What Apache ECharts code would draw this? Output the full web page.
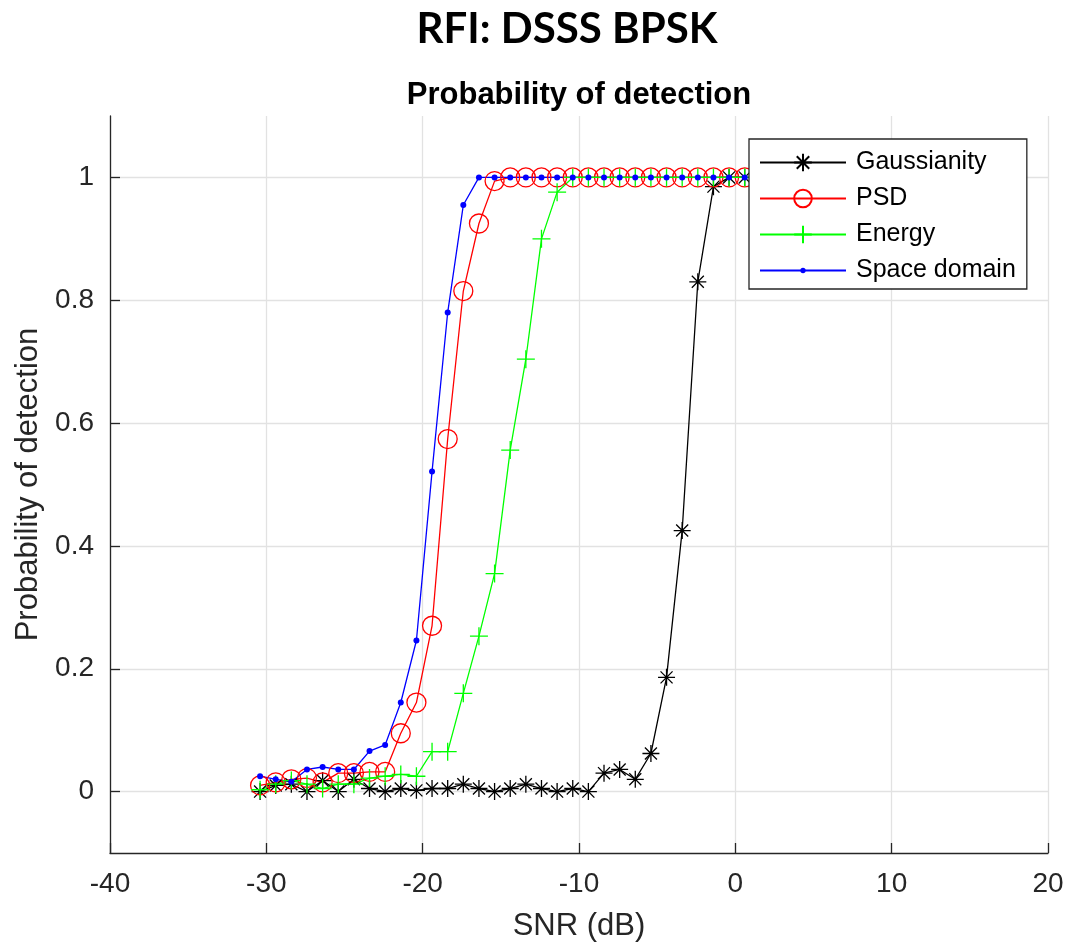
<!DOCTYPE html>
<html>
<head>
<meta charset="utf-8">
<script src="https://cdn.jsdelivr.net/npm/echarts@6/dist/echarts.min.js"></script>
<style>
html,body{margin:0;padding:0;background:#fff;}
#chart{width:1068px;height:947px;}
</style>
</head>
<body>
<div id="chart"></div>
<script>
const snr = [-30.4, -29.4, -28.4, -27.4, -26.4, -25.4, -24.4, -23.4, -22.4, -21.4,
  -20.4, -19.4, -18.4, -17.4, -16.4, -15.4, -14.4, -13.4, -12.4, -11.4,
  -10.4, -9.4, -8.4, -7.4, -6.4, -5.4, -4.4, -3.4, -2.4, -1.4, -0.4, 0.6];
const gaussianity = [0, 0.01, 0.012, 0, 0.018, 0, 0.02, 0.005, 0, 0.005,
  0.002, 0.005, 0.005, 0.012, 0.005, 0, 0.005, 0.012, 0.005, 0,
  0.005, 0, 0.03, 0.036, 0.02, 0.062, 0.186, 0.425, 0.83, 0.985, 1, 1];
const psd = [0.01, 0.015, 0.02, 0.022, 0.015, 0.03, 0.03, 0.032, 0.032, 0.095,
  0.145, 0.27, 0.574, 0.815, 0.925, 0.994, 1, 1, 1, 1,
  1, 1, 1, 1, 1, 1, 1, 1, 1, 1, 1, 1];
const energy = [0.003, 0.012, 0.018, 0.012, 0.005, 0.012, 0.012, 0.022, 0.025, 0.028,
  0.025, 0.065, 0.065, 0.16, 0.253, 0.355, 0.556, 0.704, 0.9, 0.976,
  1, 1, 1, 1, 1, 1, 1, 1, 1, 1, 1, 1];
const spaceDomain = [0.025, 0.02, 0.016, 0.036, 0.04, 0.036, 0.036, 0.066, 0.076, 0.145,
  0.246, 0.521, 0.78, 0.955, 1, 1, 1, 1, 1, 1,
  1, 1, 1, 1, 1, 1, 1, 1, 1, 1, 1, 1];
const seriesNames = ['Gaussianity', 'PSD', 'Energy', 'Space domain'];
const yTicks = [0, 0.2, 0.4, 0.6, 0.8, 1];
const xMin = -40, xMax = 20, xStep = 10;
const yMin = -0.1, yMax = 1.1;

const zip = (xs, ys) => xs.map((x, i) => [x, ys[i]]);
const AX = '#262626';
const FONT = '"Liberation Sans", Arial, sans-serif';
const starPath = 'path://M0,-10L0,10M-10,0L10,0M-7.07,-7.07L7.07,7.07M-7.07,7.07L7.07,-7.07';
const plusPath = 'path://M0,-10L0,10M-10,0L10,0';
const dotPath = 'path://M-10,-10M10,10M3,0A3,3,0,1,1,-3,0A3,3,0,1,1,3,0Z';

const chart = echarts.init(document.getElementById('chart'), null, {renderer: 'canvas'});
chart.setOption({
  animation: false,
  backgroundColor: '#fff',
  graphic: [
    {type: 'text', x: 567, y: 29, style: {text: 'RFI: DSSS BPSK', font: 'bold 42px Lato, "Open Sans", sans-serif', fill: '#000', textAlign: 'center', textVerticalAlign: 'middle'}},
    {type: 'text', x: 579, y: 95, style: {text: 'Probability of detection', font: 'bold 31px ' + FONT, fill: '#000', textAlign: 'center', textVerticalAlign: 'middle'}}
  ],
  grid: {left: 110, top: 116, width: 938, height: 740, containLabel: false},
  xAxis: {
    type: 'value', min: xMin, max: xMax, interval: xStep,
    name: 'SNR (dB)', nameLocation: 'middle', nameGap: 58,
    nameTextStyle: {fontFamily: FONT, fontSize: 31, color: AX},
    axisLine: {show: true, onZero: false, lineStyle: {color: AX, width: 1.3}},
    axisTick: {show: true, inside: true, length: 10, lineStyle: {color: AX, width: 1.3}},
    axisLabel: {fontFamily: FONT, fontSize: 28, color: AX, margin: 17},
    splitLine: {show: true, lineStyle: {color: '#e2e2e2', width: 1.3}}
  },
  yAxis: {
    type: 'value', min: yMin, max: yMax,
    name: 'Probability of detection', nameLocation: 'middle', nameGap: 60,
    nameTextStyle: {fontFamily: FONT, fontSize: 31, color: AX},
    axisLine: {show: true, onZero: false, lineStyle: {color: AX, width: 1.3}},
    axisTick: {show: true, inside: true, length: 10, customValues: yTicks, lineStyle: {color: AX, width: 1.3}},
    axisLabel: {fontFamily: FONT, fontSize: 28, color: AX, margin: 16, customValues: yTicks},
    splitLine: {show: true, lineStyle: {color: '#e2e2e2', width: 1.3}}
  },
  legend: {
    orient: 'vertical', left: 749, top: 139,
    padding: [11, 11, 6, 10],
    itemWidth: 86, itemHeight: 22, itemGap: 11,
    backgroundColor: '#fff', borderColor: AX, borderWidth: 1.3, borderRadius: 0,
    textStyle: {fontFamily: FONT, fontSize: 25, color: '#000', padding: [0, 0, 0, 5]},
    data: seriesNames
  },
  series: [
    {name: seriesNames[0], type: 'line', data: zip(snr, gaussianity), showAllSymbol: true,
     symbol: starPath, symbolSize: 17, symbolKeepAspect: true,
     lineStyle: {color: '#000', width: 1.3},
     itemStyle: {color: '#000', borderColor: '#000', borderWidth: 1.3}},
    {name: seriesNames[1], type: 'line', data: zip(snr, psd), showAllSymbol: true,
     symbol: 'circle', symbolSize: 19,
     lineStyle: {color: '#ff0000', width: 1.3},
     itemStyle: {color: 'rgba(255,255,255,0)', borderColor: '#ff0000', borderWidth: 1.3}},
    {name: seriesNames[2], type: 'line', data: zip(snr, energy), showAllSymbol: true,
     symbol: plusPath, symbolSize: 18, symbolKeepAspect: true,
     lineStyle: {color: '#00ff00', width: 1.3},
     itemStyle: {color: '#00ff00', borderColor: '#00ff00', borderWidth: 1.3}},
    {name: seriesNames[3], type: 'line', data: zip(snr, spaceDomain), showAllSymbol: true,
     symbol: dotPath, symbolSize: 20, symbolKeepAspect: true,
     lineStyle: {color: '#0000ff', width: 1.3},
     itemStyle: {color: '#0000ff', borderColor: '#0000ff', borderWidth: 0}}
  ]
});
</script>
</body>
</html>
